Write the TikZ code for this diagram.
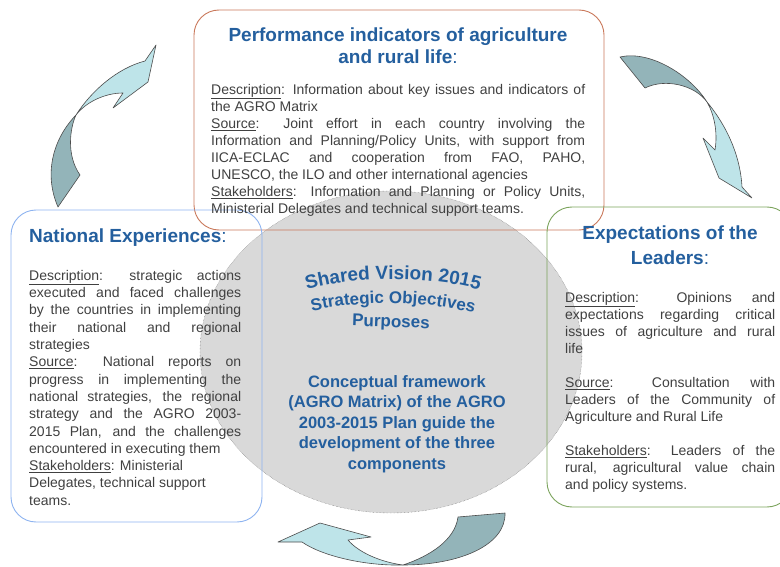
\documentclass[tikz,border=0pt]{standalone}
\usepackage{fontspec}
\setmainfont{Liberation Sans}
\usetikzlibrary{shapes.geometric,decorations.text}

\setlength{\parindent}{0pt}
\tolerance=9999
\hyphenpenalty=10000
\exhyphenpenalty=10000

\definecolor{titleblue}{HTML}{245F9E}
\definecolor{bodygray}{HTML}{404040}
\definecolor{perfline}{HTML}{C9785A}
\definecolor{natline}{HTML}{8DB3F0}
\definecolor{leadline}{HTML}{7BA35C}
\definecolor{visionfill}{HTML}{D9D9D9}
\definecolor{arrowdark}{HTML}{93B4B9}
\definecolor{arrowlight}{HTML}{BEE4E9}

\tikzset{
  panel/.style={draw, rounded corners=25pt, line width=0.9pt, inner sep=0pt},
  heading/.style={text=titleblue, font=\fontsize{19}{22}\selectfont\bfseries, align=center, inner sep=0pt},
  body/.style={text=bodygray, font=\fontsize{14}{17}\selectfont, align=justify, inner sep=0pt, anchor=north west},
  twist/.style={draw=black!70, line width=0.6pt, line join=round},
}

\begin{document}
\begin{tikzpicture}[x=1pt,y=-1pt]
\useasboundingbox (0,0) rectangle (780,567);

\node[ellipse, fill=visionfill, draw=black!60, densely dotted, inner sep=0pt, minimum width=382pt, minimum height=322pt] (vision) at (391,352) {};

\node[panel, draw=perfline, minimum width=410pt, minimum height=220pt] (perf) at (399,120) {};
\node[panel, draw=natline, minimum width=251pt, minimum height=312pt] (nat) at (136.5,366) {};
\node[panel, draw=leadline, minimum width=245pt, minimum height=300pt] (lead) at (669.5,357) {};

\node[heading] (perftitle) at (398,46) {Performance indicators of agriculture\\and rural life\textmd{:}};
\node[heading, anchor=west] (nattitle) at (29,238) {National Experiences\textmd{:}};
\node[heading, font=\fontsize{19}{25}\selectfont\bfseries] (leadtitle) at (670,245) {Expectations of the\\Leaders\textmd{:}};

\node[body, text width=374pt] (perfbody) at (211,84) {\underline{Description}: Information about key issues and indicators of\linebreak the AGRO Matrix\par
\underline{Source}: Joint effort in each country involving the\linebreak Information and Planning/Policy Units, with support from\linebreak IICA-ECLAC and cooperation from FAO, PAHO,\linebreak UNESCO, the ILO and other international agencies\par
\underline{Stakeholders}: Information and Planning or Policy Units,\linebreak Ministerial Delegates and technical support teams.};

\node[body, text width=212pt, font=\fontsize{14}{17.3}\selectfont] (natbody) at (29,270) {\underline{Description}: strategic actions\linebreak executed and faced challenges\linebreak by the countries in implementing\linebreak their national and regional\linebreak strategies\par
\underline{Source}: National reports on\linebreak progress in implementing the\linebreak national strategies, the regional\linebreak strategy and the AGRO 2003-\linebreak 2015 Plan, and the challenges\linebreak encountered in executing them\par
\underline{Stakeholders}: Ministerial\newline Delegates, technical support\newline teams.};

\node[body, text width=210pt] (leadbody) at (565,292) {\underline{Description}: Opinions and\linebreak expectations regarding critical\linebreak issues of agriculture and rural\linebreak life\par\vspace{17pt}
\underline{Source}: Consultation with\linebreak Leaders of the Community of\linebreak Agriculture and Rural Life\par\vspace{17pt}
\underline{Stakeholders}: Leaders of the\linebreak rural, agricultural value chain\linebreak and policy systems.};

\path[decorate, decoration={text along path, text align=center, text color=titleblue,
  text={|\fontsize{19}{19}\selectfont\bfseries|Shared Vision 2015}}]
  (300,292) .. controls (350,275) and (435,275) .. (486,292);
\path[decorate, decoration={text along path, text align=center, text color=titleblue,
  text={|\fontsize{17}{17}\selectfont\bfseries|Strategic Objectives}}]
  (308,312) .. controls (360,300) and (425,300) .. (478,314);
\node[text=titleblue, font=\fontsize{17}{17}\selectfont\bfseries, rotate=-2, inner sep=0pt] (purposes) at (391,323) {Purposes};

\node[text=titleblue, font=\fontsize{16.5}{20.5}\selectfont\bfseries, align=center, inner sep=0pt] (frame) at (397,424) {Conceptual framework\\(AGRO Matrix) of the AGRO\\2003-2015 Plan guide the\\development of the three\\components};

\path[twist, fill=arrowdark] (58,207) .. controls (44,175) and (52,140) .. (76,115) .. controls (70,128) and (66,155) .. (80,175) -- cycle;
\path[twist, fill=arrowlight] (76,115) .. controls (92,90) and (118,68) .. (145,61) -- (156,45) -- (148,82) -- (113,108) -- (123,93) .. controls (105,93) and (86,102) .. (76,115) -- cycle;

\path[twist, fill=arrowdark] (620,57) .. controls (650,50) and (690,75) .. (707,102) .. controls (695,85) and (665,78) .. (645,88) -- cycle;
\path[twist, fill=arrowlight] (707,102) .. controls (722,120) and (740,150) .. (742,187) -- (752,198) -- (719,178) -- (703,138) -- (715,150) .. controls (718,132) and (714,114) .. (707,102) -- cycle;

\path[twist, fill=arrowdark] (505,513) .. controls (506,545) and (460,565) .. (403,565) .. controls (430,556) and (455,540) .. (458,517) -- cycle;
\path[twist, fill=arrowlight] (403,565) .. controls (365,566) and (322,556) .. (302,542) -- (278,542) -- (320,523) -- (371,537) -- (348,540) .. controls (358,552) and (380,562) .. (403,565) -- cycle;
\end{tikzpicture}
\end{document}
